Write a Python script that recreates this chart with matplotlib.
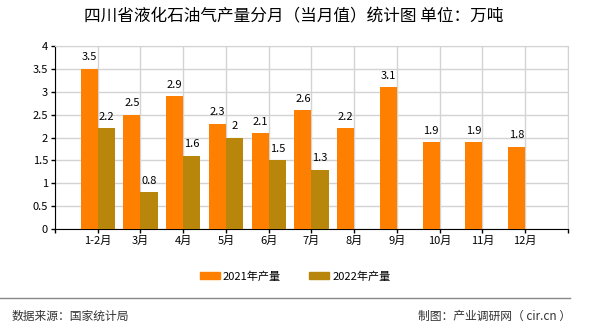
import numpy as np
import matplotlib.pyplot as plt
from matplotlib.patches import Patch

plt.rcParams["font.family"] = ["Noto Sans CJK SC", "DejaVu Sans"]

months = ["1-2月", "3月", "4月", "5月", "6月", "7月", "8月", "9月", "10月", "11月", "12月"]
output_2021 = [3.5, 2.5, 2.9, 2.3, 2.1, 2.6, 2.2, 3.1, 1.9, 1.9, 1.8]
output_2022 = [2.2, 0.8, 1.6, 2, 1.5, 1.3]

color_2021 = "#FF8000"
color_2022 = "#B8860B"

fig = plt.figure(figsize=(5.9, 3.3), dpi=100)
ax = fig.add_axes([0.0932, 0.306, 0.8695, 0.5546])

x = np.arange(1, len(months) + 1)
w = 0.4
ax.bar(x - w / 2, output_2021, width=w, color=color_2021, zorder=3)
x22 = x[:len(output_2022)]
ax.bar(x22 + w / 2, output_2022, width=w, color=color_2022, zorder=3)

# value labels
for xi, v in zip(x, output_2021):
    ax.text(xi - w / 2, v + 0.14, f"{v:g}", ha="center", va="bottom", fontsize=8)
for xi, v in zip(x22, output_2022):
    ax.text(xi + w / 2, v + 0.14, f"{v:g}", ha="center", va="bottom", fontsize=8)

ax.set_xlim(0, 12)
ax.set_ylim(0, 4)
ax.set_yticks(np.arange(0, 4.01, 0.5))
ax.set_yticklabels([f"{t:g}" for t in np.arange(0, 4.01, 0.5)], fontsize=8)
ax.set_xticks(np.arange(0, 13))
ax.set_xticklabels([""] + months + [""], fontsize=8)
ax.tick_params(axis="both", length=3, width=1, color="black", pad=2)

ax.grid(True, color="#d3d3d3", lw=1, zorder=0)
ax.spines["left"].set_color("black")
ax.spines["bottom"].set_color("black")
ax.spines["top"].set_color("#d3d3d3")
ax.spines["right"].set_color("#d3d3d3")

fig.text(0.498, 0.948, "四川省液化石油气产量分月（当月值）统计图 单位：万吨",
         ha="center", va="center", fontsize=12)

handles = [Patch(color=color_2021, label="2021年产量"), Patch(color=color_2022, label="2022年产量")]
fig.legend(handles=handles, loc="center", bbox_to_anchor=(0.5, 0.163), ncol=2, frameon=False,
           fontsize=8, handlelength=1.8, handleheight=0.6, columnspacing=2.5, handletextpad=0.3)

fig.add_artist(plt.Line2D([0, 0.966], [0.097, 0.097], color="#888888", lw=1))
fig.text(0.02, 0.042, "数据来源：国家统计局", ha="left", va="center", fontsize=8.5, color="#333333")
fig.text(0.968, 0.042, "制图：产业调研网（ cir.cn ）", ha="right", va="center", fontsize=8.5, color="#333333")

fig.savefig("out.png", dpi=100)
